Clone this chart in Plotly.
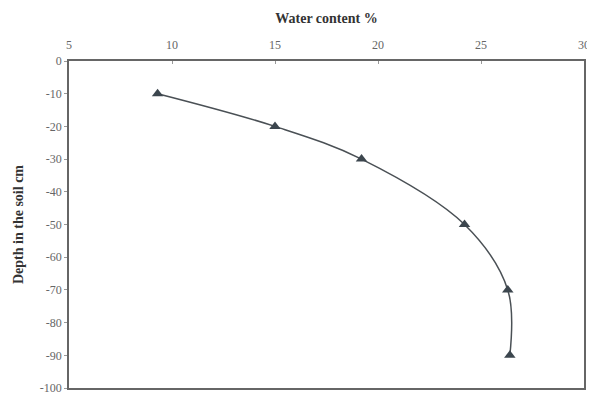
import plotly.graph_objects as go

water_content = [9.3, 15.0, 19.2, 24.2, 26.3, 26.4]
depth = [-10, -20, -30, -50, -70, -90]
x_ticks = [5, 10, 15, 20, 25, 30]
y_ticks = [0, -10, -20, -30, -40, -50, -60, -70, -80, -90, -100]

fig = go.Figure()
fig.add_trace(go.Scatter(
    x=water_content, y=depth, mode="lines+markers",
    line=dict(color="#4a5055", width=1.5, shape="spline", smoothing=1.0),
    marker=dict(symbol="triangle-up", size=10, color="#3c464e"),
    showlegend=False, cliponaxis=False,
))

tick_font = dict(family="Liberation Serif, Times New Roman, serif", size=12, color="#666")
title_font = dict(family="Liberation Serif, Times New Roman, serif", size=14, color="#333")

# page body has an 8px default margin; the figure is sized to compensate
fig.update_layout(
    width=587, height=385,
    margin=dict(l=61, r=11, t=53, b=5),
    paper_bgcolor="white", plot_bgcolor="white",
    xaxis=dict(
        side="top", range=[5, 30], tickvals=x_ticks, ticktext=[str(v) for v in x_ticks],
        showgrid=False, zeroline=False, showline=True, mirror=True, automargin=False,
        linecolor="#666", linewidth=1.5, ticks="inside", ticklen=3, tickcolor="#999",
        tickfont=tick_font, ticklabeloverflow="allow", ticklabelstandoff=5,
        title=dict(text="<b>Water content %</b>", font=title_font, standoff=12),
    ),
    yaxis=dict(
        range=[-100, 0], tickvals=y_ticks, ticktext=[str(v) for v in y_ticks],
        showgrid=False, zeroline=False, showline=True, mirror=True, automargin=False,
        linecolor="#666", linewidth=1.5, ticks="outside", ticklen=3, tickcolor="#999",
        tickfont=tick_font, ticklabeloverflow="allow",
        title=dict(text="<b>Depth in the soil cm</b>", font=title_font, standoff=13),
    ),
)

fig.write_html("out.html")
